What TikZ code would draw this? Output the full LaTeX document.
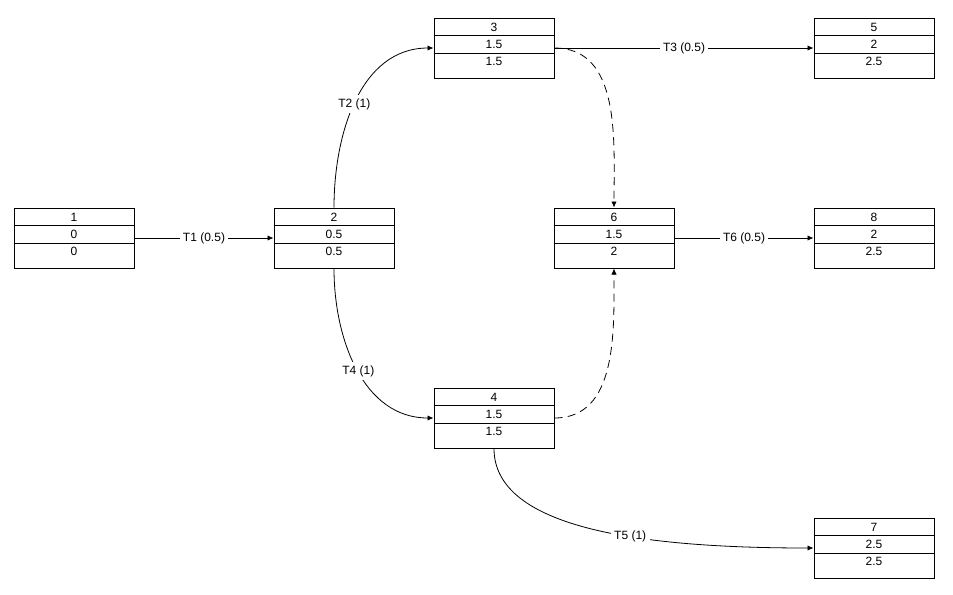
\documentclass[tikz,border=0pt]{standalone}
\usepackage{fontspec}
\setmainfont{Liberation Sans}
\usetikzlibrary{arrows.meta}
\newcommand\evbox[6]{%
  \node[evnode] (#1) at (#2+60,#3+30) {};
  \draw[divider] ([yshift=-13.5pt]#1.north west) -- ([yshift=-13.5pt]#1.north east);
  \draw[divider] ([yshift=-27pt]#1.north west) -- ([yshift=-27pt]#1.north east);
  \node[cell] at ([yshift=-7.6pt]#1.north) {#4};
  \node[cell] at ([yshift=-20.1pt]#1.north) {#5};
  \node[cell] at ([yshift=-33.2pt]#1.north) {#6};
}
\begin{document}
\begin{tikzpicture}[x=0.75pt,y=-0.75pt,
  every node/.style={font=\fontsize{9}{11}\selectfont},
  evnode/.style={draw=black,line width=0.75pt,minimum width=90pt,minimum height=45pt,inner sep=0pt,fill=white},
  divider/.style={line width=0.75pt},
  cell/.style={inner sep=0pt},
  conn/.style={line width=0.6pt,-{Latex[length=4.5pt,width=4pt]}},
  dconn/.style={conn,dash pattern=on 6pt off 4pt},
  lbl/.style={fill=white,inner sep=2.5pt}]
\useasboundingbox (0,0) rectangle (953,594);
\evbox{n1}{14}{208}{1}{0}{0}
\evbox{n2}{274}{208}{2}{0.5}{0.5}
\evbox{n3}{434}{18}{3}{1.5}{1.5}
\evbox{n4}{434}{388}{4}{1.5}{1.5}
\evbox{n5}{814}{18}{5}{2}{2.5}
\evbox{n6}{554}{208}{6}{1.5}{2}
\evbox{n7}{814}{518}{7}{2.5}{2.5}
\evbox{n8}{814}{208}{8}{2}{2.5}
\draw[conn] (n1.east) -- node[lbl] {T1 (0.5)} (n2.west);
\draw[conn] (n2.north) to[out=90,in=180] node[lbl,pos=0.48] {T2 (1)} (n3.west);
\draw[conn] (n3.east) -- node[lbl,pos=0.5] {T3 (0.5)} (n5.west);
\draw[conn] (n2.south) to[out=-90,in=180] node[lbl,pos=0.51] {T4 (1)} (n4.west);
\draw[conn] (n4.south) .. controls +(0,82) and +(-164,0) .. node[lbl,pos=0.6] {T5 (1)} (n7.west);
\draw[conn] (n6.east) -- node[lbl] {T6 (0.5)} (n8.west);
\draw[dconn] (n3.east) to[out=0,in=90] (n6.north);
\draw[dconn] (n4.east) to[out=0,in=-90] (n6.south);
\end{tikzpicture}
\end{document}
